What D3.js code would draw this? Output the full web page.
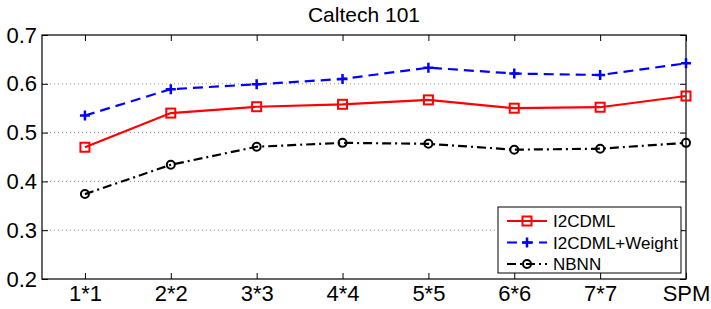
<!DOCTYPE html>
<html>
<head>
<meta charset="utf-8">
<script src="https://cdn.jsdelivr.net/npm/d3@7"></script>
<style>
  body { margin: 0; background: #fff; }
  svg text { font-family: Arial, "Liberation Sans", Helvetica, sans-serif; fill: #000; }
</style>
</head>
<body>
<div id="chart"></div>
<script>
// data
var categories = ["1*1", "2*2", "3*3", "4*4", "5*5", "6*6", "7*7", "SPM"];
var i2cdml = [0.470, 0.540, 0.553, 0.558, 0.567, 0.550, 0.552, 0.575];
var i2cdmlWeight = [0.535, 0.589, 0.599, 0.610, 0.633, 0.621, 0.618, 0.642];
var nbnn = [0.374, 0.434, 0.471, 0.479, 0.477, 0.465, 0.467, 0.479];
var yTicks = [0.2, 0.3, 0.4, 0.5, 0.6, 0.7];
var title = "Caltech 101";

var series = [
  {name: "I2CDML", values: i2cdml, color: "#ff0000", dash: null, marker: "square"},
  {name: "I2CDML+Weight", values: i2cdmlWeight, color: "#0000ff", dash: "10,6", marker: "plus"},
  {name: "NBNN", values: nbnn, color: "#000000", dash: "9,4,2,4", marker: "circle"}
];

var W = 711, H = 309;
var margin = {top: 35, right: 25, bottom: 30, left: 42};
var width = W - margin.left - margin.right,
    height = H - margin.top - margin.bottom;

var svg = d3.select("#chart").append("svg")
  .attr("width", W)
  .attr("height", H);

var g = svg.append("g")
  .attr("transform", "translate(" + margin.left + "," + margin.top + ")");

// x: index 1..8, left edge half a step before the first point
var x = d3.scaleLinear().domain([0.5, categories.length]).range([0, width]);
var y = d3.scaleLinear().domain([0.2, 0.7]).range([height, 0]);
var idx = d3.range(1, categories.length + 1);

// dotted horizontal grid
g.append("g").selectAll("line")
  .data(yTicks.slice(1, -1))
  .enter().append("line")
    .attr("x1", 0).attr("x2", width)
    .attr("y1", function(d) { return y(d); })
    .attr("y2", function(d) { return y(d); })
    .attr("stroke", "#8c8c8c")
    .attr("stroke-width", 1)
    .attr("stroke-dasharray", "1,3");

// axes with inward ticks on all four sides
var xAxis = d3.axisBottom(x).tickValues(idx)
  .tickFormat(function(d) { return categories[d - 1]; })
  .tickSizeInner(-6).tickSizeOuter(0).tickPadding(6);
var yAxis = d3.axisLeft(y).tickValues(yTicks)
  .tickFormat(d3.format(".1f"))
  .tickSizeInner(-6).tickSizeOuter(0).tickPadding(5);

var gx = g.append("g").attr("transform", "translate(0," + height + ")").call(xAxis);
var gy = g.append("g").call(yAxis);
g.append("g").call(d3.axisTop(x).tickValues(idx).tickFormat("").tickSizeInner(-6).tickSizeOuter(0));
g.append("g").attr("transform", "translate(" + width + ",0)")
  .call(d3.axisRight(y).tickValues(yTicks).tickFormat("").tickSizeInner(-6).tickSizeOuter(0));

svg.selectAll(".domain").remove();
svg.selectAll(".tick line").attr("stroke", "#000").attr("stroke-width", 1);
gx.selectAll("text").style("font-size", "22px");
gy.selectAll("text").style("font-size", "22px");

// frame
g.append("rect")
  .attr("x", 0).attr("y", 0)
  .attr("width", width).attr("height", height)
  .attr("fill", "none")
  .attr("stroke", "#000")
  .attr("stroke-width", 1.2);

// title
svg.append("text")
  .attr("x", margin.left + width / 2)
  .attr("y", 22)
  .attr("text-anchor", "middle")
  .style("font-size", "21px")
  .text(title);

function drawMarker(sel, s, cx, cy) {
  if (s.marker === "square") {
    sel.append("rect")
      .attr("x", cx - 4.5).attr("y", cy - 4.5)
      .attr("width", 9).attr("height", 9)
      .attr("fill", "none").attr("stroke", s.color).attr("stroke-width", 2);
  } else if (s.marker === "circle") {
    sel.append("circle")
      .attr("cx", cx).attr("cy", cy).attr("r", 4)
      .attr("fill", "none").attr("stroke", s.color).attr("stroke-width", 2);
  } else {
    sel.append("path")
      .attr("d", "M" + (cx - 5) + "," + cy + "H" + (cx + 5) + "M" + cx + "," + (cy - 5) + "V" + (cy + 5))
      .attr("stroke", s.color).attr("stroke-width", 2.5);
  }
}

var line = d3.line()
  .x(function(d, i) { return x(i + 1); })
  .y(function(d) { return y(d); });

series.forEach(function(s) {
  var sg = g.append("g");
  sg.append("path")
    .datum(s.values)
    .attr("d", line)
    .attr("fill", "none")
    .attr("stroke", s.color)
    .attr("stroke-width", 2.2)
    .attr("stroke-dasharray", s.dash);
  s.values.forEach(function(v, i) {
    drawMarker(sg, s, x(i + 1), y(v));
  });
});

// legend, lower right
var lg = svg.append("g").attr("transform", "translate(498,207)");
lg.append("rect")
  .attr("width", 183).attr("height", 66)
  .attr("fill", "#fff")
  .attr("stroke", "#000")
  .attr("stroke-width", 1);

series.forEach(function(s, i) {
  var cy = 14 + i * 21.5;
  lg.append("line")
    .attr("x1", 9).attr("x2", 49)
    .attr("y1", cy).attr("y2", cy)
    .attr("stroke", s.color)
    .attr("stroke-width", 2.2)
    .attr("stroke-dasharray", s.dash);
  drawMarker(lg, s, 29, cy);
  lg.append("text")
    .attr("x", 55)
    .attr("y", cy + 6)
    .style("font-size", "17px")
    .text(s.name);
});
</script>
</body>
</html>
